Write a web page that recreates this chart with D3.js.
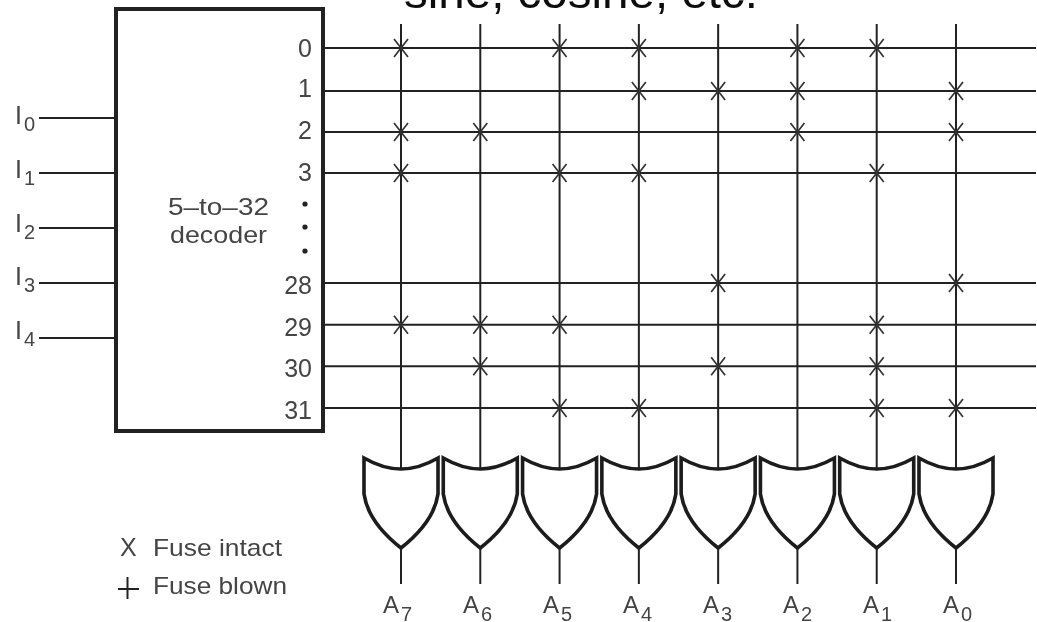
<!DOCTYPE html>
<html>
<head>
<meta charset="utf-8">
<script src="https://cdnjs.cloudflare.com/ajax/libs/d3/7.8.5/d3.min.js"></script>
<style>
  html, body { margin: 0; padding: 0; background: #fff; overflow: hidden; }
  text { font-family: "Liberation Sans", Arial, sans-serif; fill: #444; }
  .wire { stroke: #222; stroke-width: 2; fill: none; }
  .fuse { stroke: #333; stroke-width: 1.7; fill: none; }
  .gate { stroke: #1c1c1c; stroke-width: 3.6; fill: #fff; stroke-linejoin: miter; }
</style>
</head>
<body>
<svg id="chart" width="1037" height="622"></svg>
<script>
// decoder inputs, OR outputs, decoder output rows
const inputs = ["0", "1", "2", "3", "4"];
const outputs = ["7", "6", "5", "4", "3", "2", "1", "0"];
const rows = [0, 1, 2, 3, 28, 29, 30, 31];

// intact fuses: row -> outputs connected
const fusesRow0 = ["7", "5", "4", "2", "1"];
const fusesRow1 = ["4", "3", "2", "0"];
const fusesRow2 = ["7", "6", "2", "0"];
const fusesRow3 = ["7", "5", "4", "1"];
const fusesRow28 = ["3", "0"];
const fusesRow29 = ["7", "6", "5", "1"];
const fusesRow30 = ["6", "3", "1"];
const fusesRow31 = ["5", "4", "1", "0"];
const fuseRows = [fusesRow0, fusesRow1, fusesRow2, fusesRow3, fusesRow28, fusesRow29, fusesRow30, fusesRow31];

const svg = d3.select("#chart");

// scan was a bit soft, same here
const defs = svg.append("defs");
defs.append("filter").attr("id", "soft").append("feGaussianBlur").attr("stdDeviation", 0.5);
const root = svg.append("g").attr("filter", "url(#soft)");

const x = d3.scalePoint().domain(outputs).range([401, 956]);
const xLabel = d3.scalePoint().domain(outputs).range([383, 943]);
const y = d3.scaleLinear().domain([0, 1, 3, 28, 31]).range([48, 91, 173, 283, 408]);
const yLabel = d3.scaleLinear().domain([0, 1, 3, 28, 31]).range([57, 97, 181, 294, 419]);
const yIn = d3.scalePoint().domain(inputs).range([118, 338]);
const yInLabel = d3.scalePoint().domain(inputs).range([124, 339]);

// title cut off by the top of the slide
root.append("text").attr("x", 404).attr("y", 8)
  .attr("font-size", 47).attr("textLength", 354).attr("lengthAdjust", "spacingAndGlyphs")
  .style("fill", "#111")
  .text("sine, cosine, etc.");

// --- word lines
root.append("g").selectAll("line").data(rows).join("line")
  .attr("class", "wire")
  .attr("x1", 323).attr("x2", 1036)
  .attr("y1", d => y(d)).attr("y2", d => y(d));

// --- bit lines
root.append("g").selectAll("line").data(outputs).join("line")
  .attr("class", "wire")
  .attr("x1", d => x(d)).attr("x2", d => x(d))
  .attr("y1", 24).attr("y2", 469);

// --- fuses
const fuseG = root.append("g");
rows.forEach((r, i) => {
  fuseRows[i].forEach(o => {
    fuseG.append("path").attr("class", "fuse")
      .attr("transform", `translate(${x(o)},${y(r)})`)
      .attr("d", "M-7,-9L7,9M7,-9L-7,9");
  });
});

// --- decoder box
root.append("rect").attr("x", 116).attr("y", 9).attr("width", 207).attr("height", 422)
  .attr("fill", "none").attr("stroke", "#222").attr("stroke-width", 4);

root.append("text").attr("x", 168).attr("y", 215)
  .attr("font-size", 24).attr("textLength", 101).attr("lengthAdjust", "spacingAndGlyphs").text("5–to–32");
root.append("text").attr("x", 170).attr("y", 243)
  .attr("font-size", 24).attr("textLength", 97).attr("lengthAdjust", "spacingAndGlyphs").text("decoder");

root.append("g").selectAll("text").data(rows).join("text")
  .attr("x", 312).attr("y", d => yLabel(d))
  .attr("text-anchor", "end").attr("font-size", 25)
  .text(d => d);

root.append("g").selectAll("circle").data([204, 227, 251]).join("circle")
  .attr("cx", 305).attr("cy", d => d).attr("r", 2.6).attr("fill", "#222");

// --- inputs
root.append("g").selectAll("line").data(inputs).join("line")
  .attr("class", "wire")
  .attr("x1", 39).attr("x2", 115)
  .attr("y1", d => yIn(d)).attr("y2", d => yIn(d));

function subLabel(sel, base, sub, drop) {
  sel.append("tspan").text(base);
  sel.append("tspan").attr("dy", drop).attr("dx", 2).attr("font-size", 20).text(sub);
}

inputs.forEach(d => {
  root.append("text").attr("x", 15).attr("y", yInLabel(d)).attr("font-size", 25)
    .call(subLabel, "I", d, 7);
});

// --- OR gates
const gateW = 37;
outputs.forEach(d => {
  const p = d3.path();
  const cx = x(d);
  p.moveTo(cx - gateW, 458);
  p.quadraticCurveTo(cx - 18, 469, cx, 469);
  p.quadraticCurveTo(cx + 18, 469, cx + gateW, 458);
  p.lineTo(cx + gateW, 494);
  p.quadraticCurveTo(cx + 33, 522, cx, 548);
  p.quadraticCurveTo(cx - 33, 522, cx - gateW, 494);
  p.closePath();
  root.append("path").attr("class", "gate").attr("d", p.toString());
  root.append("line").attr("class", "wire")
    .attr("x1", cx).attr("x2", cx).attr("y1", 548).attr("y2", 584);
  root.append("text").attr("x", xLabel(d)).attr("y", 613).attr("font-size", 24)
    .call(subLabel, "A", d, 8);
});

// --- legend
root.append("text").attr("x", 120).attr("y", 556).attr("font-size", 25).text("X");
root.append("text").attr("x", 153).attr("y", 556).attr("font-size", 24)
  .attr("textLength", 129).attr("lengthAdjust", "spacingAndGlyphs").text("Fuse intact");
root.append("path").attr("class", "wire").attr("d", "M118,589H139M127.5,577V599");
root.append("text").attr("x", 153).attr("y", 594).attr("font-size", 24)
  .attr("textLength", 134).attr("lengthAdjust", "spacingAndGlyphs").text("Fuse blown");
</script>
</body>
</html>
